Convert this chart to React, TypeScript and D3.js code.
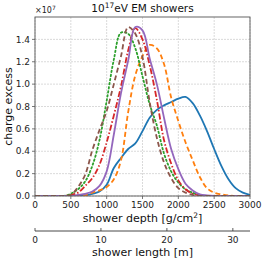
import React from 'react';
import * as d3 from 'd3';

// shower depth grid (g/cm^2)
const depth = [0, 100, 200, 300, 400, 500, 600, 700, 800, 900, 1000, 1100, 1200, 1300, 1400, 1500, 1600, 1700, 1800, 1900, 2000, 2100, 2200, 2300, 2400, 2500, 2600, 2700, 2800, 2900, 3000];

// charge excess in units of 1e7
const blue = [0, 0, 0, 0, 0, 0, 0, 0.005, 0.02, 0.04, 0.1, 0.25, 0.34, 0.42, 0.47, 0.58, 0.7, 0.77, 0.81, 0.84, 0.87, 0.885, 0.83, 0.72, 0.58, 0.42, 0.27, 0.15, 0.07, 0.03, 0.01];
const orange = [0, 0, 0, 0, 0, 0, 0, 0.005, 0.03, 0.05, 0.08, 0.15, 0.32, 0.75, 1.08, 1.25, 1.35, 1.32, 1.18, 0.88, 0.67, 0.48, 0.32, 0.17, 0.07, 0.03, 0.015, 0.005, 0, 0, 0];
const green = [0, 0, 0, 0, 0, 0.02, 0.06, 0.13, 0.27, 0.5, 0.85, 1.22, 1.46, 1.45, 1.32, 1.07, 0.82, 0.63, 0.38, 0.22, 0.12, 0.06, 0.03, 0.01, 0, 0, 0, 0, 0, 0, 0];
const red = [0, 0, 0, 0, 0, 0.01, 0.03, 0.09, 0.16, 0.28, 0.48, 0.72, 0.98, 1.3, 1.5, 1.4, 1.17, 0.86, 0.5, 0.29, 0.14, 0.06, 0.02, 0.005, 0, 0, 0, 0, 0, 0, 0];
const purple = [0, 0, 0, 0, 0, 0, 0.01, 0.02, 0.04, 0.09, 0.22, 0.55, 0.92, 1.21, 1.51, 1.48, 1.23, 1.0, 0.7, 0.42, 0.24, 0.11, 0.05, 0.015, 0.005, 0, 0, 0, 0, 0, 0];
const brown = [0, 0, 0, 0, 0, 0.01, 0.08, 0.19, 0.41, 0.59, 0.76, 1.0, 1.25, 1.51, 1.45, 1.24, 0.84, 0.52, 0.3, 0.16, 0.07, 0.03, 0.01, 0, 0, 0, 0, 0, 0, 0, 0];

const yTicks = [0, 0.2, 0.4, 0.6, 0.8, 1.0, 1.2, 1.4];
const xTicks = [0, 500, 1000, 1500, 2000, 2500, 3000];
const lengthTicks = [0, 10, 20, 30];

const series = [
  { name: 'blue', values: blue, color: '#1f77b4', dash: null },
  { name: 'orange', values: orange, color: '#ff7f0e', dash: '5,3' },
  { name: 'green', values: green, color: '#2ca02c', dash: '1.5,2.6' },
  { name: 'red', values: red, color: '#d62728', dash: '6,2,1.5,2' },
  { name: 'purple', values: purple, color: '#9467bd', dash: null },
  { name: 'brown', values: brown, color: '#8c564b', dash: '5,3' },
];

const FONT = 'DejaVu Sans, sans-serif';

export default function App() {
  const left = 35;
  const right = 250;
  const top = 17;
  const bottom = 196;

  const x = d3.scaleLinear().domain([0, 3000]).range([left, right]);
  const y = d3.scaleLinear().domain([0, 1.6]).range([bottom, top]);
  const xLen = d3.scaleLinear().domain([0, 32.6]).range([left, right]);

  const line = d3
    .line<number>()
    .x((_, i) => x(depth[i]))
    .y((d) => Math.min(y(d), bottom))
    .curve(d3.curveCatmullRom.alpha(0.5));

  const lenAxisY = 231;

  return (
    <svg width={266} height={263} style={{ position: 'absolute', left: 0, top: 0 }} fontFamily={FONT}>
      <rect width={266} height={263} fill="#fff" />
      {/* grid */}
      {xTicks.map((t) => (
        <line key={'gx' + t} x1={x(t)} x2={x(t)} y1={top} y2={bottom} stroke="#d0d0d0" strokeWidth={0.8} strokeDasharray="2,1" />
      ))}
      {yTicks.map((t) => (
        <line key={'gy' + t} x1={left} x2={right} y1={y(t)} y2={y(t)} stroke="#d0d0d0" strokeWidth={0.8} strokeDasharray="2,1" />
      ))}
      <defs>
        <clipPath id="plotclip">
          <rect x={left} y={top} width={right - left} height={bottom - top} />
        </clipPath>
      </defs>
      {/* curves */}
      <g clipPath="url(#plotclip)">
        {series.map((s) => (
          <path
            key={s.name}
            d={line(s.values) ?? ''}
            fill="none"
            stroke={s.color}
            strokeWidth={1.8}
            strokeDasharray={s.dash ?? undefined}
            strokeLinecap={s.name === 'green' ? 'round' : 'butt'}
          />
        ))}
      </g>
      {/* frame */}
      <rect x={left} y={top} width={right - left} height={bottom - top} fill="none" stroke="#555" strokeWidth={0.9} />
      {/* y ticks */}
      {yTicks.map((t) => (
        <g key={'yt' + t}>
          <line x1={left - 3} x2={left} y1={y(t)} y2={y(t)} stroke="#555" strokeWidth={0.8} />
          <text x={left - 5} y={y(t)} dy="0.35em" textAnchor="end" fontSize={9} fill="#222">
            {t.toFixed(1)}
          </text>
        </g>
      ))}
      {/* x ticks */}
      {xTicks.map((t) => (
        <g key={'xt' + t}>
          <line x1={x(t)} x2={x(t)} y1={bottom} y2={bottom + 3} stroke="#555" strokeWidth={0.8} />
          <text x={x(t)} y={bottom + 12} textAnchor="middle" fontSize={9} fill="#222">
            {t}
          </text>
        </g>
      ))}
      {/* offset label */}
      <text x={left} y={13} fontSize={8} fill="#222">
        ×10<tspan dy={-3} fontSize={6}>7</tspan>
      </text>
      {/* title */}
      <text x={(left + right) / 2} y={12} textAnchor="middle" fontSize={10.5} fill="#111">
        10<tspan dy={-4} fontSize={7.5}>17</tspan>
        <tspan dy={4}>eV EM showers</tspan>
      </text>
      {/* y label */}
      <text transform={`translate(12,${(top + bottom) / 2}) rotate(-90)`} textAnchor="middle" fontSize={11} fill="#111">
        charge excess
      </text>
      {/* x label */}
      <text x={(left + right) / 2} y={222} textAnchor="middle" fontSize={11} fill="#111">
        shower depth [g/cm<tspan dy={-4} fontSize={7.5}>2</tspan>
        <tspan dy={4}>]</tspan>
      </text>
      {/* secondary axis: shower length */}
      <line x1={left} x2={right} y1={lenAxisY} y2={lenAxisY} stroke="#333" strokeWidth={0.9} />
      {lengthTicks.map((t) => (
        <g key={'lt' + t}>
          <line x1={xLen(t)} x2={xLen(t)} y1={lenAxisY - 3} y2={lenAxisY} stroke="#333" strokeWidth={0.8} />
          <text x={xLen(t)} y={lenAxisY + 12} textAnchor="middle" fontSize={9} fill="#222">
            {t}
          </text>
        </g>
      ))}
      <text x={(left + right) / 2} y={256} textAnchor="middle" fontSize={11} fill="#111">
        shower length [m]
      </text>
    </svg>
  );
}
